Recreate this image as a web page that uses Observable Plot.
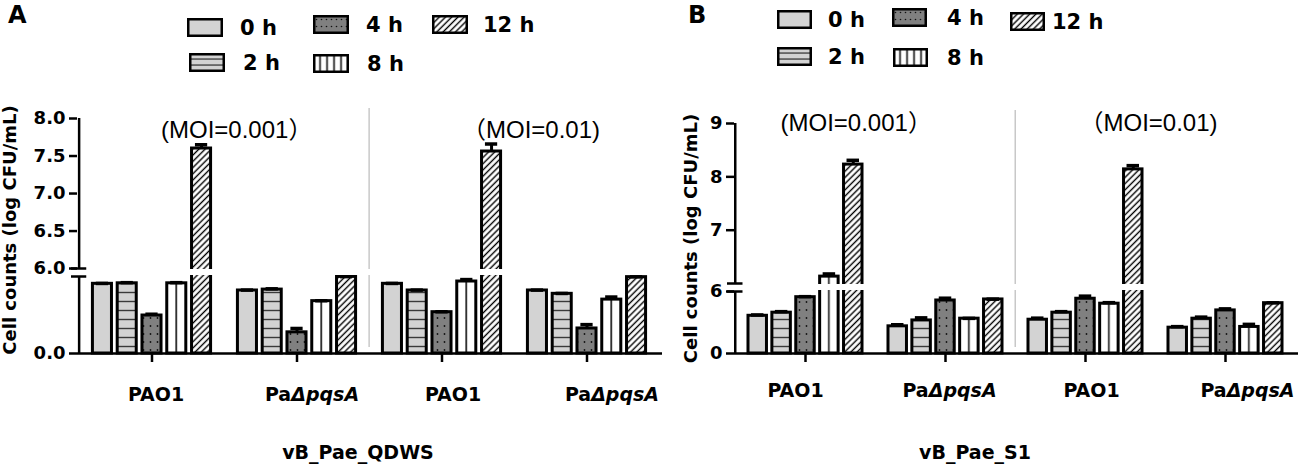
<!DOCTYPE html>
<html>
<head>
<meta charset="utf-8">
<script src="https://cdn.jsdelivr.net/npm/d3@7"></script>
<script src="https://cdn.jsdelivr.net/npm/@observablehq/plot@0.6"></script>
<style>
  html, body { margin: 0; padding: 0; background: #fff; }
  body { width: 1299px; height: 464px; position: relative; overflow: hidden; font-family: "DejaVu Sans", sans-serif; color: #000; }
  .panel { position: absolute; top: 0; height: 464px; }
  .plot { position: absolute; left: 0; top: 90px; }
  .plot svg { overflow: visible; }
  .tag { position: absolute; font: bold 24px "DejaVu Sans", sans-serif; line-height: 24px; }
  .sw { position: absolute; }
  .lt { position: absolute; font: bold 21px "DejaVu Sans", sans-serif; line-height: 24px; white-space: nowrap; }
  .caption { position: absolute; top: 440px; font: bold 19px "DejaVu Sans", sans-serif; line-height: 24px; transform: translateX(-50%); white-space: nowrap; }
</style>
</head>
<body>
<svg width="0" height="0" style="position:absolute">
  <defs>
    <pattern id="pat2" patternUnits="userSpaceOnUse" width="10" height="9">
      <rect width="10" height="9" fill="#d3d3d3"/>
      <rect x="0" y="3.8" width="10" height="1.4" fill="#3a3a3a"/>
    </pattern>
    <pattern id="pat4" patternUnits="userSpaceOnUse" width="7" height="8">
      <rect width="7" height="8" fill="#808080"/>
      <circle cx="3.5" cy="4" r="0.9" fill="#111"/>
    </pattern>
    <pattern id="pat8" patternUnits="objectBoundingBox" patternContentUnits="objectBoundingBox" width="1" height="1">
      <rect width="1" height="1" fill="#fff"/>
      <rect x="0.46" y="0" width="0.08" height="1" fill="#000"/>
    </pattern>
    <pattern id="pat12" patternUnits="userSpaceOnUse" width="4.4" height="4.4" patternTransform="rotate(45)">
      <rect width="4.4" height="4.4" fill="#fff"/>
      <rect x="1.5" y="0" width="1.4" height="4.4" fill="#000"/>
    </pattern>
    <pattern id="lpat2" patternUnits="userSpaceOnUse" y="3" width="10" height="6">
      <rect width="10" height="6" fill="#d3d3d3"/>
      <rect x="0" y="2.4" width="10" height="1.3" fill="#3a3a3a"/>
    </pattern>
    <pattern id="lpat4" patternUnits="userSpaceOnUse" x="1" y="1" width="5" height="7">
      <rect width="5" height="7" fill="#808080"/>
      <circle cx="2.5" cy="3.5" r="0.8" fill="#111"/>
    </pattern>
    <pattern id="lpat8" patternUnits="userSpaceOnUse" x="3.5" width="7" height="10">
      <rect width="7" height="10" fill="#fff"/>
      <rect x="2.8" y="0" width="1.5" height="10" fill="#000"/>
    </pattern>
  </defs>
</svg>

<script>
// ---------------- data ----------------
const times = ["0 h", "2 h", "4 h", "8 h", "12 h"];
const strains = ["PAO1", "PaΔpqsA", "PAO1", "PaΔpqsA"];
const mois = ["0.001", "0.001", "0.01", "0.01"];
const moiLabels = ["(MOI=0.001）", "（MOI=0.01)"];

// vB_Pae_QDWS (panel A): one value per strain/MOI group
const qdws0h  = [5.43, 4.91, 5.43, 4.91];
const qdws2h  = [5.47, 4.98, 4.91, 4.65];
const qdws4h  = [2.96, 1.65, 3.22, 1.95];
const qdws8h  = [5.47, 4.08, 5.61, 4.20];
const qdws12h = [7.60, 5.97, 7.56, 5.95];
const qdws0hErr  = [0.03, 0.03, 0.03, 0.03];
const qdws2hErr  = [0.05, 0.06, 0.03, 0.03];
const qdws4hErr  = [0.10, 0.30, 0.03, 0.30];
const qdws8hErr  = [0.05, 0.03, 0.15, 0.20];
const qdws12hErr = [0.05, 0.02, 0.10, 0.02];

// vB_Pae_S1 (panel B)
const s1_0h  = [3.65, 2.63, 3.27, 2.50];
const s1_2h  = [3.95, 3.20, 3.95, 3.37];
const s1_4h  = [5.45, 5.13, 5.30, 4.17];
const s1_8h  = [6.13, 3.37, 4.82, 2.57];
const s1_12h = [8.23, 5.23, 8.14, 4.87];
const s1_0hErr  = [0.08, 0.15, 0.15, 0.10];
const s1_2hErr  = [0.10, 0.25, 0.10, 0.15];
const s1_4hErr  = [0.05, 0.22, 0.25, 0.15];
const s1_8hErr  = [0.05, 0.03, 0.10, 0.25];
const s1_12hErr = [0.08, 0.03, 0.07, 0.03];

// y-axis tick values (broken axis: lower part 0–6, upper part 6–top)
const ticksA = [0, 6.001, 6.5, 7, 7.5, 8];
const ticksB = [0, 6, 7, 8, 9];

// ---------------- styling ----------------
const fills = ["#d3d3d3", "url(#pat2)", "url(#pat4)", "url(#pat8)", "url(#pat12)"];
const legendFills = ["#d3d3d3", "url(#lpat2)", "url(#lpat4)", "url(#lpat8)", "url(#pat12)"];

const panels = [
  {
    tag: "A", left: 0, width: 670, marginLeft: 77, marginRight: 10, marginTop: 28, marginBottom: 72,
    yDomain: [0, 6, 6.001, 8], yRange: [263, 186, 178, 28], yTicks: ticksA, fmt: d3.format(".1f"),
    values: [qdws0h, qdws2h, qdws4h, qdws8h, qdws12h],
    errors: [qdws0hErr, qdws2hErr, qdws4hErr, qdws8hErr, qdws12hErr],
    moiDx: [9, 20], moiDy: 2, titleDx: -67, titleDy: -6, sepTop: -10, tickPad: 25,
    labelShift: [4, 15, 11, 25],
    caption: "vB_Pae_QDWS", captionX: 358,
    tagPos: [8, 3],
    sw: {x: [187, 189, 313, 313, 432], y: [18, 53, 15, 54, 15], w: 36, h: 19},
    tx: [240, 243, 366, 367, 483]
  },
  {
    tag: "B", left: 670, width: 629, marginLeft: 64, marginRight: 3, marginTop: 33, marginBottom: 72,
    yDomain: [0, 6, 6.001, 9], yRange: [263, 201, 193, 33], yTicks: ticksB, fmt: d3.format("d"),
    values: [s1_0h, s1_2h, s1_4h, s1_8h, s1_12h],
    errors: [s1_0hErr, s1_2hErr, s1_4hErr, s1_8hErr, s1_12hErr],
    moiDx: [-25, -6], moiDy: -9.5, titleDx: -43, titleDy: 0, sepTop: -13, tickPad: 21,
    labelShift: [-10, 4, 6, 22],
    caption: "vB_Pae_S1", captionX: 305,
    tagPos: [18, 3],
    sw: {x: [107, 107, 222, 223, 340], y: [10, 47, 8, 48, 12], w: 35, h: 19},
    tx: [158, 158, 277, 277, 382]
  }
];

const keys = strains.map((s, i) => `${s} · MOI ${mois[i]}`);

function buildPanel(cfg) {
  const panel = document.createElement("div");
  panel.className = "panel";
  panel.style.left = cfg.left + "px";
  panel.style.width = cfg.width + "px";
  document.body.appendChild(panel);

  // panel tag
  const tag = document.createElement("div");
  tag.className = "tag";
  tag.textContent = cfg.tag;
  tag.style.left = cfg.tagPos[0] + "px";
  tag.style.top = cfg.tagPos[1] + "px";
  panel.appendChild(tag);

  // legend
  times.forEach((t, i) => {
    const sw = d3.create("svg").attr("class", "sw")
      .attr("width", cfg.sw.w).attr("height", cfg.sw.h)
      .style("left", cfg.sw.x[i] + "px").style("top", cfg.sw.y[i] + "px");
    sw.append("rect").attr("x", 1.25).attr("y", 1.25)
      .attr("width", cfg.sw.w - 2.5).attr("height", cfg.sw.h - 2.5)
      .attr("fill", legendFills[i]).attr("stroke", "#000").attr("stroke-width", 2.5);
    panel.appendChild(sw.node());
    const lt = document.createElement("div");
    lt.className = "lt";
    lt.textContent = t;
    lt.style.left = cfg.tx[i] + "px";
    lt.style.top = (cfg.sw.y[i] + cfg.sw.h / 2 - 12) + "px";
    panel.appendChild(lt);
  });

  const height = 335;
  const bw = (cfg.width - cfg.marginLeft - cfg.marginRight) / keys.length;
  const step = bw * 0.17;
  const barW = step * 0.92 - 3;
  const barInset = (bw - barW) / 2;
  const capW = 13;
  const capInset = (bw - capW) / 2;
  const top = cfg.yDomain[cfg.yDomain.length - 1];

  const marks = [];
  // separator between MOI groups
  marks.push(Plot.ruleX([keys[2]], {x: d => d, dx: -bw / 2, stroke: "#c8c8c8", strokeWidth: 1.5, insetTop: cfg.sepTop, insetBottom: 6}));

  times.forEach((t, i) => {
    const rows = keys.map((k, j) => ({group: k, time: t, value: cfg.values[i][j], err: cfg.errors[i][j]}));
    const dx = (i - 2) * step;
    marks.push(Plot.barY(rows, {x: "group", y1: 0, y2: "value", fill: fills[i], stroke: "#000", strokeWidth: 3,
      insetLeft: barInset, insetRight: barInset, dx}));
    marks.push(Plot.ruleX(rows, {x: "group", y1: "value", y2: d => d.value + d.err, stroke: "#000", strokeWidth: 3, dx}));
    marks.push(Plot.tickY(rows, {x: "group", y: d => d.value + d.err, stroke: "#000", strokeWidth: 3.5,
      insetLeft: capInset, insetRight: capInset, dx}));
  });

  // axis break gap
  marks.push(Plot.barY(keys, {x: d => d, y1: 6, y2: 6.001, fill: "#fff", insetTop: 1, insetBottom: 1, insetLeft: -3, insetRight: -3}));
  // y axis line (two segments)
  marks.push(Plot.ruleX([keys[0]], {x: d => d, dx: -bw / 2, y1: 0, y2: 6, strokeWidth: 2.5}));
  marks.push(Plot.ruleX([keys[0]], {x: d => d, dx: -bw / 2, y1: 6.001, y2: top, strokeWidth: 2.5}));
  // break marks
  marks.push(Plot.tickY([6, 6.001], {x: () => keys[0], y: d => d, dx: -bw / 2,
    insetLeft: (bw - 16) / 2, insetRight: (bw - 16) / 2, strokeWidth: 2.5}));
  // axes
  marks.push(Plot.axisY(cfg.yTicks, {tickSize: 8, tickPadding: 4, strokeWidth: 2.5, fontSize: 18, fontWeight: "bold",
    tickFormat: cfg.fmt, label: null}));
  marks.push(Plot.axisX({tickSize: 9, tickPadding: cfg.tickPad, strokeWidth: 2.5, fontSize: 19, fontWeight: "bold",
    tickFormat: k => strains[keys.indexOf(k)], label: null}));
  marks.push(Plot.ruleY([0], {strokeWidth: 2.5, insetRight: -2}));
  // y title
  marks.push(Plot.text(["Cell counts (log CFU/mL)"], {text: d => d, frameAnchor: "left", textAnchor: "middle",
    lineAnchor: "middle", rotate: -90, dx: cfg.titleDx, dy: cfg.titleDy, fontSize: 18, fontWeight: "bold"}));
  // MOI labels
  moiLabels.forEach((lab, m) => {
    marks.push(Plot.text([lab], {x: () => keys[m * 2], text: d => d, frameAnchor: "top", textAnchor: "start",
      dx: cfg.moiDx[m], dy: cfg.moiDy, fontSize: 24, fontWeight: "normal",
      fontFamily: "'Liberation Sans', Arial, 'Noto Sans CJK SC', sans-serif"}));
  });

  const svg = Plot.plot({
    width: cfg.width,
    height,
    marginLeft: cfg.marginLeft,
    marginRight: cfg.marginRight,
    marginTop: cfg.marginTop,
    marginBottom: cfg.marginBottom,
    x: {type: "band", domain: keys, padding: 0},
    y: {type: "linear", domain: cfg.yDomain, range: cfg.yRange},
    style: {fontFamily: "'DejaVu Sans', sans-serif", background: "transparent", overflow: "visible", color: "#000"},
    marks
  });

  // x tick labels: slight horizontal offsets as in the original layout, italic ΔpqsA
  let li = 0;
  d3.select(svg).selectAll("text").each(function() {
    const el = d3.select(this);
    const txt = this.textContent;
    if (txt === "PAO1" || txt === "PaΔpqsA") {
      el.attr("dx", cfg.labelShift[li++] || 0);
      if (txt === "PaΔpqsA") {
        el.text(null);
        el.append("tspan").text("Pa");
        el.append("tspan").attr("font-style", "italic").text("ΔpqsA");
      }
    }
  });

  const wrap = document.createElement("div");
  wrap.className = "plot";
  wrap.appendChild(svg);
  panel.appendChild(wrap);

  const cap = document.createElement("div");
  cap.className = "caption";
  cap.textContent = cfg.caption;
  cap.style.left = cfg.captionX + "px";
  panel.appendChild(cap);
}

panels.forEach(buildPanel);
</script>
</body>
</html>
